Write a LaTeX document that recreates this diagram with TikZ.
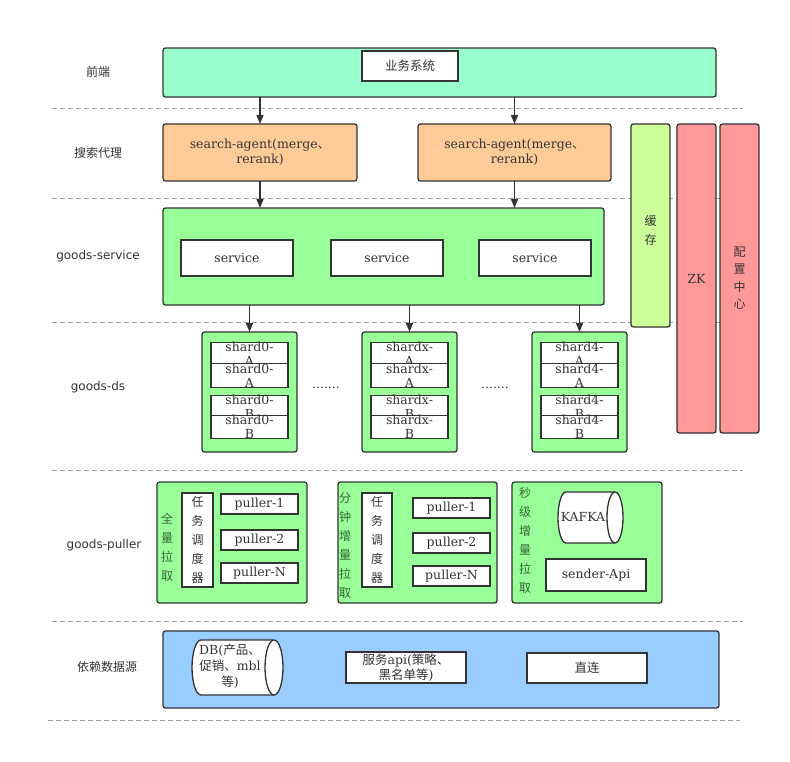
\documentclass[tikz,border=0pt]{standalone}
\usepackage{fontspec}
\setmainfont{DejaVu Serif}
\newfontfamily\cjk{Noto Sans CJK SC}
\newfontfamily\labfont{DejaVu Sans}
\usetikzlibrary{arrows.meta}
\newcommand\zh[1]{{\cjk #1}}
\definecolor{dk}{HTML}{333333}
\definecolor{cFront}{HTML}{99FFCC}
\definecolor{cAgent}{HTML}{FFCC99}
\definecolor{cGreen}{HTML}{99FF99}
\definecolor{cCache}{HTML}{CCFF99}
\definecolor{cRed}{HTML}{FF9999}
\definecolor{cBlue}{HTML}{99CCFF}
\definecolor{cLabGreen}{HTML}{336633}
\definecolor{cDash}{HTML}{A0A0A0}
\tikzset{
  every node/.style={inner sep=0pt, outer sep=0pt, text=dk},
  txt/.style={font=\fontsize{12.5}{15}\selectfont},
  box/.style={draw=dk, line width=1.3pt, rounded corners=2.5pt, txt, align=center},
  wbox/.style={draw=dk, fill=white, line width=1.3pt, txt, align=center},
  shardbox/.style={draw=dk, fill=white, line width=1.3pt, minimum width=77pt, font=\fontsize{12.5}{14}\selectfont, align=center},
  lab/.style={font=\labfont\fontsize{12}{15}\selectfont, text=dk},
  vlab/.style={font=\cjk\fontsize{12}{19}\selectfont, align=center},
  sep/.style={draw=cDash, line width=0.8pt, dash pattern=on 5pt off 3pt},
  arr/.style={draw=dk, line width=1.3pt, -{Triangle[length=9pt,width=7pt]}},
  cyl/.style={draw=dk, fill=white, line width=1.3pt},
}
\begin{document}
\begin{tikzpicture}[x=1pt,y=1pt]
\useasboundingbox (0,0) rectangle (790,-762);
% separators
\foreach \yy in {108,198,322,470,621} \draw[sep] (52,-\yy) -- (743,-\yy);
\draw[sep] (48,-720) -- (740,-720);
% left labels
\node[lab] (l1) at (98,-72) {\zh{前端}};
\node[lab] (l2) at (98,-153) {\zh{搜索代理}};
\node[lab] (l3) at (98,-256) {goods-service};
\node[lab] (l4) at (98,-387) {goods-ds};
\node[lab] (l5) at (104,-545) {goods-puller};
\node[lab] (l6) at (107,-667) {\zh{依赖数据源}};
% front
\node[box, fill=cFront, minimum width=553pt, minimum height=49pt] (front) at (439.5,-72.5) {};
\node[wbox, minimum width=96pt, minimum height=30pt] (biz) at (410,-66) {\zh{业务系统}};
% agents
\node[box, fill=cAgent, minimum width=194pt, minimum height=57pt] (ag1) at (260,-152.5) {search-agent(merge\zh{、}\\rerank)};
\node[box, fill=cAgent, minimum width=193pt, minimum height=57pt] (ag2) at (514.5,-152.5) {search-agent(merge\zh{、}\\rerank)};
% side columns
\node[box, fill=cCache, minimum width=39pt, minimum height=203pt] (cache) at (650.5,-225.5) {};
\node[vlab] (cachet) at (650.5,-230) {缓\\存};
\node[box, fill=cRed, minimum width=39pt, minimum height=309pt] (zk) at (696.5,-278.5) {ZK};
\node[box, fill=cRed, minimum width=39pt, minimum height=309pt] (cfg) at (739.5,-278.5) {};
\node[vlab, font=\cjk\fontsize{12}{17.5}\selectfont] (cfgt) at (739.5,-278) {配\\置\\中\\心};
% service
\node[box, fill=cGreen, minimum width=441pt, minimum height=97pt] (svc) at (383.5,-256.5) {};
\node[wbox, minimum width=112pt, minimum height=36pt] (s1) at (237,-258) {service};
\node[wbox, minimum width=112pt, minimum height=36pt] (s2) at (387,-258) {service};
\node[wbox, minimum width=112pt, minimum height=36pt] (s3) at (535,-258) {service};
% ds
\foreach \n/\cx/\t in {1/249.5/0,2/409.5/x,3/579.5/4}{
  \node[box, fill=cGreen, minimum width=95pt, minimum height=120pt] (ds\n) at (\cx,-392) {};
  \node[shardbox, minimum height=20pt] (ds\n a1) at (\cx,-354) {shard\t-\\A};
  \node[shardbox, minimum height=21pt] (ds\n a2) at (\cx,-375.5) {shard\t-\\A};
  \node[shardbox, minimum height=20pt] (ds\n b1) at (\cx,-407) {shard\t-\\B};
  \node[shardbox, minimum height=20pt] (ds\n b2) at (\cx,-427) {shard\t-\\B};
}
\node[txt] (dots1) at (326,-388) {.......};
\node[txt] (dots2) at (495,-388) {.......};
% pullers
\node[box, fill=cGreen, minimum width=150pt, minimum height=121pt] (p1) at (232,-542.5) {};
\node[vlab, text=cLabGreen] (p1t) at (167,-547) {全\\量\\拉\\取};
\node[wbox, minimum width=31pt, minimum height=94pt, font=\cjk\fontsize{12}{19}\selectfont] (sch1) at (197.5,-540) {任\\务\\调\\度\\器};
\node[wbox, minimum width=77pt, minimum height=20pt] (p1a) at (259.5,-504) {puller-1};
\node[wbox, minimum width=77pt, minimum height=20pt] (p1b) at (259.5,-540) {puller-2};
\node[wbox, minimum width=77pt, minimum height=20pt] (p1c) at (259.5,-573) {puller-N};
\node[box, fill=cGreen, minimum width=159pt, minimum height=121pt] (p2) at (417.5,-542.5) {};
\node[vlab, text=cLabGreen] (p2t) at (345,-546) {分\\钟\\增\\量\\拉\\取};
\node[wbox, minimum width=30pt, minimum height=94pt, font=\cjk\fontsize{12}{19}\selectfont] (sch2) at (377,-540) {任\\务\\调\\度\\器};
\node[wbox, minimum width=77pt, minimum height=20pt] (p2a) at (451.5,-508) {puller-1};
\node[wbox, minimum width=77pt, minimum height=20pt] (p2b) at (451.5,-543) {puller-2};
\node[wbox, minimum width=77pt, minimum height=20pt] (p2c) at (451.5,-576) {puller-N};
\node[box, fill=cGreen, minimum width=150pt, minimum height=121pt] (p3) at (587,-542.5) {};
\node[vlab, text=cLabGreen] (p3t) at (525,-540) {秒\\级\\增\\量\\拉\\取};
\draw[cyl] (566,-492) arc[start angle=90, end angle=270, x radius=8, y radius=25.5] -- (615,-543) arc[start angle=-90, end angle=90, x radius=8, y radius=25.5] -- cycle;
\draw[cyl] (615,-492) arc[start angle=90, end angle=270, x radius=8, y radius=25.5];
\node[txt] (kafka) at (583,-517) {KAFKA};
\node[wbox, minimum width=100pt, minimum height=32pt] (sender) at (596,-575) {sender-Api};
% data sources
\node[box, fill=cBlue, minimum width=556pt, minimum height=77pt] (data) at (441,-669.5) {};
\draw[cyl] (201,-640) arc[start angle=90, end angle=270, x radius=9, y radius=27.5] -- (274,-695) arc[start angle=-90, end angle=90, x radius=9, y radius=27.5] -- cycle;
\draw[cyl] (274,-640) arc[start angle=90, end angle=270, x radius=9, y radius=27.5];
\node[txt, align=center, font=\fontsize{12.5}{16}\selectfont] (db) at (230,-666) {DB(\zh{产品、}\\\zh{促销、}mbl\\\zh{等})};
\node[wbox, minimum width=120pt, minimum height=31pt, font=\fontsize{12.5}{15}\selectfont] (api) at (406,-667.5) {\zh{服务}api(\zh{策略、}\\\zh{黑名单等})};
\node[wbox, minimum width=120pt, minimum height=30pt] (direct) at (587,-668) {\zh{直连}};
% arrows
\draw[arr] (ag1.north |- front.south) -- (ag1.north);
\draw[arr] (ag2.north |- front.south) -- (ag2.north);
\draw[arr] (ag1.south) -- (ag1.south |- svc.north);
\draw[arr] (ag2.south) -- (ag2.south |- svc.north);
\draw[arr] (ds1.north |- svc.south) -- (ds1.north);
\draw[arr] (ds2.north |- svc.south) -- (ds2.north);
\draw[arr] (ds3.north |- svc.south) -- (ds3.north);
\end{tikzpicture}
\end{document}
